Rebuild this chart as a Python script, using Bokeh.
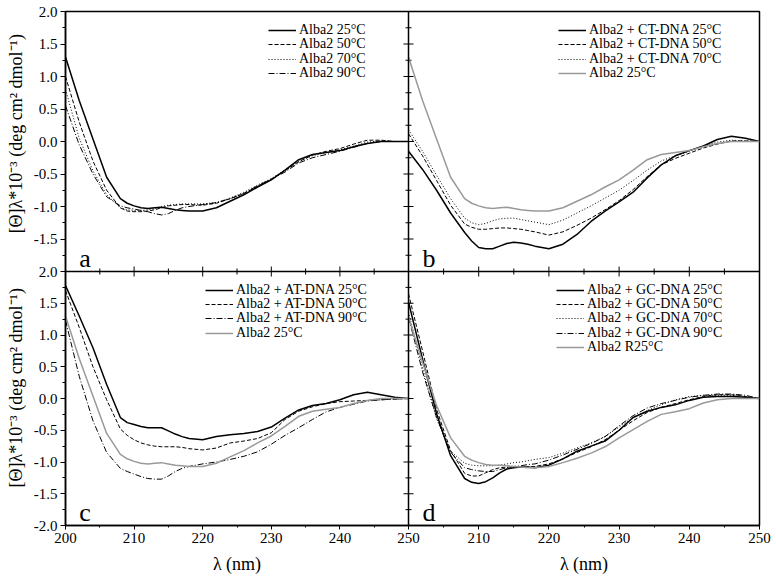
from math import pi
from bokeh.plotting import figure
from bokeh.models import Range1d, FixedTicker, Legend, LegendItem, Label, Span, LinearAxis
from bokeh.embed import file_html
from bokeh.resources import INLINE

# ---------------- data ----------------
WAVELENGTH = [200, 202, 204, 206, 208, 209, 210, 211, 212, 213, 214, 215, 216, 217, 218,
              220, 222, 224, 226, 228, 230, 232, 234, 236, 238, 240, 242, 244, 246, 248, 250]

ALBA2_25 = [1.30, 0.63, 0.04, -0.55, -0.88, -0.95, -0.99, -1.02, -1.03, -1.02, -1.01, -1.03, -1.05, -1.06, -1.07,
            -1.07, -1.02, -0.92, -0.82, -0.70, -0.59, -0.44, -0.28, -0.20, -0.17, -0.14, -0.08, -0.03, 0.00, 0.00, 0.00]
ALBA2_50 = [1.00, 0.30, -0.30, -0.75, -1.02, -1.07, -1.08, -1.08, -1.07, -1.05, -1.02, -0.99, -0.98, -0.97, -0.97,
            -0.98, -0.95, -0.88, -0.80, -0.69, -0.58, -0.45, -0.31, -0.21, -0.15, -0.11, -0.04, 0.02, 0.02, 0.00, 0.00]
ALBA2_70 = [0.80, 0.05, -0.45, -0.82, -1.02, -1.05, -1.06, -1.06, -1.05, -1.03, -1.00, -0.98, -0.97, -0.96, -0.96,
            -0.96, -0.94, -0.87, -0.78, -0.67, -0.57, -0.44, -0.31, -0.22, -0.17, -0.13, -0.07, -0.01, 0.01, 0.00, 0.00]
ALBA2_90 = [0.55, -0.05, -0.50, -0.85, -0.99, -1.02, -1.04, -1.06, -1.08, -1.11, -1.13, -1.11, -1.06, -1.02, -1.00,
            -0.97, -0.94, -0.88, -0.80, -0.68, -0.58, -0.47, -0.33, -0.25, -0.20, -0.15, -0.09, -0.03, 0.00, 0.00, 0.00]

CT_25 = [-0.15, -0.43, -0.75, -1.10, -1.40, -1.53, -1.63, -1.65, -1.65, -1.61, -1.57, -1.55, -1.56, -1.58, -1.61,
         -1.65, -1.58, -1.43, -1.23, -1.07, -0.93, -0.78, -0.56, -0.36, -0.22, -0.14, -0.07, 0.03, 0.08, 0.05, 0.00]
CT_50 = [0.12, -0.22, -0.60, -0.98, -1.27, -1.32, -1.35, -1.35, -1.34, -1.33, -1.33, -1.34, -1.35, -1.37, -1.39,
         -1.44, -1.39, -1.29, -1.18, -1.05, -0.91, -0.74, -0.54, -0.36, -0.26, -0.18, -0.10, -0.04, 0.01, 0.01, 0.00]
CT_70 = [0.18, -0.15, -0.52, -0.88, -1.18, -1.25, -1.28, -1.26, -1.22, -1.19, -1.18, -1.18, -1.20, -1.22, -1.24,
         -1.28, -1.21, -1.10, -0.99, -0.87, -0.75, -0.60, -0.44, -0.30, -0.22, -0.15, -0.07, -0.01, 0.02, 0.01, 0.00]

AT_25 = [1.78, 1.30, 0.80, 0.22, -0.30, -0.38, -0.41, -0.44, -0.46, -0.46, -0.46, -0.51, -0.56, -0.60, -0.63,
         -0.65, -0.60, -0.57, -0.55, -0.52, -0.45, -0.31, -0.18, -0.11, -0.08, -0.02, 0.06, 0.10, 0.06, 0.02, 0.00]
AT_50 = [1.70, 1.12, 0.50, -0.02, -0.48, -0.58, -0.65, -0.70, -0.73, -0.75, -0.76, -0.76, -0.76, -0.77, -0.79,
         -0.81, -0.78, -0.70, -0.67, -0.63, -0.54, -0.33, -0.20, -0.13, -0.08, -0.05, -0.04, -0.03, -0.02, -0.01, 0.00]
AT_90 = [1.23, 0.35, -0.35, -0.85, -1.10, -1.15, -1.19, -1.23, -1.26, -1.27, -1.27, -1.22, -1.15, -1.10, -1.07,
         -1.03, -1.00, -0.96, -0.91, -0.84, -0.72, -0.58, -0.46, -0.33, -0.21, -0.14, -0.09, -0.04, -0.02, -0.01, 0.00]

GC_25 = [1.52, 0.62, -0.24, -0.90, -1.26, -1.32, -1.34, -1.31, -1.25, -1.17, -1.11, -1.09, -1.08, -1.08, -1.09,
         -1.05, -0.95, -0.83, -0.75, -0.67, -0.50, -0.30, -0.20, -0.14, -0.10, -0.03, 0.02, 0.03, 0.03, 0.02, 0.00]
GC_50 = [1.65, 0.75, -0.17, -0.82, -1.18, -1.22, -1.22, -1.17, -1.12, -1.09, -1.08, -1.08, -1.08, -1.08, -1.07,
         -1.03, -0.95, -0.85, -0.76, -0.65, -0.50, -0.35, -0.22, -0.14, -0.08, -0.02, 0.03, 0.06, 0.06, 0.03, 0.00]
GC_70 = [1.36, 0.48, -0.32, -0.83, -1.02, -1.05, -1.06, -1.06, -1.06, -1.05, -1.03, -1.01, -1.00, -0.98, -0.96,
         -0.93, -0.86, -0.78, -0.70, -0.60, -0.45, -0.30, -0.19, -0.10, -0.02, 0.03, 0.05, 0.05, 0.05, 0.03, 0.00]
GC_90 = [1.28, 0.42, -0.30, -0.85, -1.09, -1.12, -1.14, -1.15, -1.15, -1.12, -1.09, -1.07, -1.06, -1.04, -1.03,
         -0.97, -0.89, -0.80, -0.71, -0.60, -0.43, -0.27, -0.15, -0.08, -0.03, 0.02, 0.05, 0.07, 0.07, 0.05, 0.00]
ALBA2_R25 = [1.28, 0.57, -0.11, -0.62, -0.91, -0.97, -1.01, -1.04, -1.05, -1.05, -1.06, -1.07, -1.08, -1.09, -1.09,
             -1.07, -1.01, -0.94, -0.86, -0.76, -0.62, -0.49, -0.36, -0.25, -0.21, -0.16, -0.07, -0.02, 0.00, 0.00, 0.00]

X_MAJOR = [200, 210, 220, 230, 240, 250]
X_MINOR = [205, 215, 225, 235, 245]
X_LABELS = ["200", "210", "220", "230", "240", "250"]
Y_MAJOR = [-2.0, -1.5, -1.0, -0.5, 0.0, 0.5, 1.0, 1.5, 2.0]
Y_MINOR = [-1.75, -1.25, -0.75, -0.25, 0.25, 0.75, 1.25, 1.75]
Y_LABELS = ["-2.0", "-1.5", "-1.0", "-0.5", "0.0", "0.5", "1.0", "1.5", "2.0"]
Y_TITLE = "[Θ]λ*10⁻³ (deg cm² dmol⁻¹)"
X_TITLE = "λ (nm)"

PANELS = {
    "a": [("Alba2 25°C", ALBA2_25, "solid"), ("Alba2 50°C", ALBA2_50, "dash"),
          ("Alba2 70°C", ALBA2_70, "dot"), ("Alba2 90°C", ALBA2_90, "dashdot")],
    "b": [("Alba2 + CT-DNA 25°C", CT_25, "solid"), ("Alba2 + CT-DNA 50°C", CT_50, "dash"),
          ("Alba2 + CT-DNA 70°C", CT_70, "dot"), ("Alba2 25°C", ALBA2_25, "gray")],
    "c": [("Alba2 + AT-DNA 25°C", AT_25, "solid"), ("Alba2 + AT-DNA 50°C", AT_50, "dash"),
          ("Alba2 + AT-DNA 90°C", AT_90, "dashdot"), ("Alba2 25°C", ALBA2_25, "gray")],
    "d": [("Alba2 + GC-DNA 25°C", GC_25, "solid"), ("Alba2 + GC-DNA 50°C", GC_50, "dash"),
          ("Alba2 + GC-DNA 70°C", GC_70, "dot"), ("Alba2 + GC-DNA 90°C", GC_90, "dashdot"),
          ("Alba2 R25°C", ALBA2_R25, "gray")],
}

# ---------------- styles / layout ----------------
FONT = "Liberation Serif"
STYLES = {
    "solid": dict(line_color="black", line_width=1.5, line_dash="solid"),
    "dash": dict(line_color="black", line_width=1.0, line_dash="4 2"),
    "dot": dict(line_color="black", line_width=1.0, line_dash="1 2"),
    "dashdot": dict(line_color="black", line_width=1.0, line_dash="6 2 1 2"),
    "gray": dict(line_color="#999999", line_width=1.5, line_dash="solid"),
}

W, H = 776, 579
B_LEFT, B_RIGHT, B_TOP, B_BOTTOM = 65, 17, 11, 54
FRAME_W = W - B_LEFT - B_RIGHT
FRAME_H = H - B_TOP - B_BOTTOM
LEFT_W = 343
RIGHT_W = FRAME_W - LEFT_W
TOP_H = 260
BOTTOM_H = FRAME_H - TOP_H

X_LO, X_HI = X_MAJOR[0], X_MAJOR[-1]
Y_LO, Y_HI = Y_MAJOR[0], Y_MAJOR[-1]
x_left = Range1d(X_LO, X_LO + (X_HI - X_LO) * FRAME_W / LEFT_W)
x_right = Range1d(X_HI - (X_HI - X_LO) * FRAME_W / RIGHT_W, X_HI)
y_bottom = Range1d(Y_LO, Y_LO + (Y_HI - Y_LO) * FRAME_H / BOTTOM_H)
y_top = Range1d(Y_HI - (Y_HI - Y_LO) * FRAME_H / TOP_H, Y_HI)


def to_main(v, src, dst):
    return dst.start + (v - src.start) * (dst.end - dst.start) / (src.end - src.start)


p = figure(width=W, height=H, x_range=x_left, y_range=y_bottom, output_backend="svg",
           toolbar_location=None, title=None,
           min_border_left=B_LEFT, min_border_right=B_RIGHT, min_border_top=B_TOP,
           min_border_bottom=B_BOTTOM)
p.extra_x_ranges = {"right": x_right}
p.extra_y_ranges = {"top": y_top}
p.grid.visible = False
p.outline_line_color = "black"
p.outline_line_width = 1.5
p.background_fill_color = "white"
p.border_fill_color = "white"

# axes: ticks of both panels mapped onto the main ranges
xt = [float(v) for v in X_MAJOR] + [to_main(v, x_right, x_left) for v in X_MAJOR[1:]]
xl = X_LABELS + X_LABELS[1:]
xm = [float(v) for v in X_MINOR] + [to_main(v, x_right, x_left) for v in X_MINOR]
yt = list(Y_MAJOR) + [to_main(v, y_top, y_bottom) for v in Y_MAJOR[1:]]
yl = Y_LABELS + Y_LABELS[1:]
ym = list(Y_MINOR) + [to_main(v, y_top, y_bottom) for v in Y_MINOR]

for ax, ticks, minors, labels, out in ((p.xaxis[0], xt, xm, xl, 4), (p.yaxis[0], yt, ym, yl, 5)):
    ax.ticker = FixedTicker(ticks=ticks, minor_ticks=minors)
    ax.major_label_overrides = dict(zip(ticks, labels))
    ax.axis_line_width = 1.5
    ax.axis_line_color = "black"
    ax.major_tick_line_color = "black"
    ax.minor_tick_line_color = "black"
    ax.major_tick_out = out
    ax.major_tick_in = 0
    ax.minor_tick_out = out - 2
    ax.minor_tick_in = 0
    ax.major_label_text_font = FONT
    ax.major_label_text_font_size = "15px"
    ax.major_label_text_color = "black"
    ax.major_label_standoff = 3

# axis titles: one per panel row / column, drawn as the single label of a bare extra axis
y_title_pos = [to_main(0.12, y_top, y_bottom), 0.17]
x_title_pos = [225.0, to_main(225, x_right, x_left)]
for side, pos, text, orient, standoff in (("left", y_title_pos, Y_TITLE, "vertical", 4),
                                          ("below", x_title_pos, X_TITLE, "horizontal", 8)):
    tax = LinearAxis(ticker=FixedTicker(ticks=pos, minor_ticks=[]),
                     major_label_overrides={v: text for v in pos},
                     major_label_orientation=orient, major_label_standoff=standoff,
                     axis_line_color=None, major_tick_line_color=None, minor_tick_line_color=None,
                     major_tick_out=0, major_tick_in=0,
                     major_label_text_font=FONT, major_label_text_font_size="18px",
                     major_label_text_color="black")
    p.add_layout(tax, side)

# internal panel boundaries
p.add_layout(Span(location=X_HI, dimension="height", line_color="black", line_width=1.5))
p.add_layout(Span(location=Y_HI, dimension="width", line_color="black", line_width=1.5))

tick_kw = dict(marker="dash", line_color="black", line_width=1)
for rng in ("default", "right"):
    p.scatter(X_MAJOR, [Y_HI] * len(X_MAJOR), angle=pi / 2, size=10, x_range_name=rng, **tick_kw)
    p.scatter(X_MINOR, [Y_HI] * len(X_MINOR), angle=pi / 2, size=6, x_range_name=rng, **tick_kw)
for rng in ("default", "top"):
    p.scatter([X_HI] * len(Y_MAJOR), Y_MAJOR, size=10, y_range_name=rng, **tick_kw)
    p.scatter([X_HI] * len(Y_MINOR), Y_MINOR, size=6, y_range_name=rng, **tick_kw)

# panels
PANEL_RANGES = {"a": ("default", "top"), "b": ("right", "top"),
                "c": ("default", "default"), "d": ("right", "default")}
LEGEND_X = {"a": 203, "b": LEFT_W + 150, "c": 140, "d": LEFT_W + 148}
LEGEND_ROW1 = {"a": 19.0, "b": 19.0, "c": TOP_H + 18.5, "d": TOP_H + 18.5}  # first row centre, px below frame top
ROW_PITCH = 14.4
ITEM_H = 16

for key, series in PANELS.items():
    xr, yr = PANEL_RANGES[key]
    for i, (label, vals, sty) in enumerate(series):
        r = p.line(WAVELENGTH, vals, x_range_name=xr, y_range_name=yr, **STYLES[sty])
        centre = LEGEND_ROW1[key] + i * ROW_PITCH
        leg = Legend(items=[LegendItem(label=label, renderers=[r])],
                     location=(LEGEND_X[key], FRAME_H - centre - ITEM_H / 2),
                     background_fill_alpha=0, border_line_alpha=0, padding=0, margin=0,
                     spacing=0, label_height=ITEM_H, glyph_height=ITEM_H, glyph_width=28,
                     label_standoff=3, label_text_font=FONT, label_text_font_size="14px",
                     label_text_color="black")
        p.add_layout(leg)
    p.add_layout(Label(x=202.0, y=-1.8, x_range_name=xr, y_range_name=yr, text=key,
                       text_font=FONT, text_font_size="26px", text_color="black",
                       text_baseline="alphabetic"))

with open("out.html", "w") as f:
    f.write(file_html(p, INLINE))
